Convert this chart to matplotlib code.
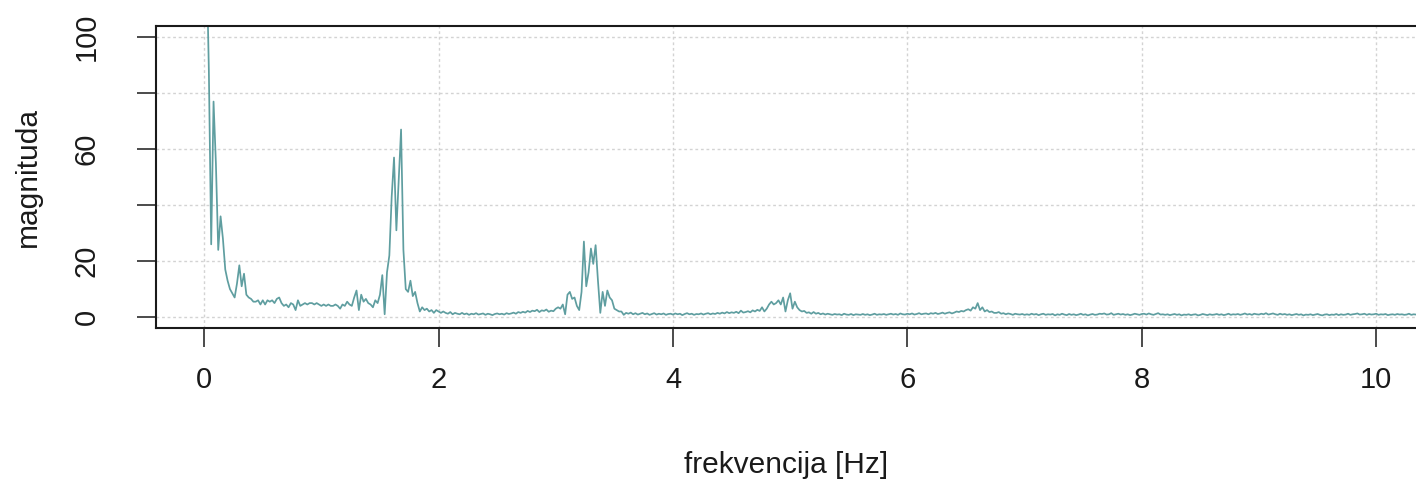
import numpy as np
import matplotlib
matplotlib.use("Agg")
import matplotlib.pyplot as plt

plt.rcParams['font.family'] = ['Liberation Sans', 'DejaVu Sans']

# magnitude spectrum, one value every 0.02 Hz starting at 0.02 Hz
freq_step = 0.02
magnitude = [
    130, 88, 26, 77, 55, 24, 36, 28, 17, 13,
    10, 8.5, 7, 12, 18.5, 11, 15.5, 8, 7, 6.5,
    5.5, 5.5, 6, 4.5, 6, 4.5, 6, 5.5, 6, 5,
    6.5, 7, 5, 4, 4.5, 3.5, 5, 4.5, 2.5, 6,
    4, 4.5, 5, 4.5, 5, 5, 4.5, 5, 4.5, 4,
    4.5, 4, 4.5, 4, 4, 4.5, 4, 3, 4.5, 4,
    5.5, 4.5, 4, 7, 9.5, 2.5, 8, 5.5, 6.5, 5,
    4.5, 3.5, 6, 5, 8, 15, 1, 16, 22, 43,
    57, 31, 49, 67, 24, 10, 9, 13, 7.5, 9,
    5, 2, 3.5, 2.5, 3, 2, 2.5, 1.5, 2.5, 2,
    # 2 - 4 Hz
    1.5, 2, 1.5, 1.2, 1.8, 1, 1.5, 1.2, 1, 1.5,
    1, 1.3, 0.8, 1.2, 1, 1.4, 0.9, 1.1, 1.3, 0.8,
    1.2, 1, 0.7, 1.1, 1.3, 1, 1.2, 0.9, 1.4, 1.1,
    1.3, 1.6, 1.2, 1.8, 1.5, 1.9, 1.6, 2.2, 1.8, 2.3,
    2.1, 2.6, 1.8, 2.4, 2.2, 2.7, 1.9, 2.3, 2.1, 3,
    3.5, 3, 4.5, 1, 8, 9, 6.5, 7, 4, 2.5,
    9, 27, 11, 16, 24.5, 19, 25.7, 13, 1.5, 9,
    4, 9.5, 7, 6, 3, 2.5, 2, 2, 0.8, 1.5,
    1.2, 1.6, 1, 1.4, 0.9, 1.2, 1.5, 1, 1.3, 0.8,
    1.1, 1.4, 0.9, 1.2, 1, 1.3, 0.8, 1.1, 1.2, 0.9,
    # 4 - 6 Hz
    1.3, 1, 1.2, 0.7, 1.1, 1.4, 1, 1.2, 0.8, 1.1,
    1, 1.3, 0.9, 1.2, 1.4, 1, 1.3, 1.1, 1.5, 1.2,
    1.6, 1.3, 1.8, 1.4, 1.7, 1.5, 1.9, 1.4, 2.3, 1.6,
    1.8, 2.1, 1.7, 2.4, 2, 2.6, 2.2, 3.5, 2, 3,
    4.5, 5.5, 4.5, 5, 6, 4.5, 7, 2, 6, 8.5,
    3, 5.5, 3.5, 2.5, 2, 2.2, 1.5, 1.7, 1.2, 1.8,
    1.2, 1.5, 1, 1.3, 0.9, 1.2, 1, 0.8, 1.1, 0.9,
    1, 0.7, 1.2, 0.9, 0.8, 1.1, 0.7, 1, 0.9, 0.8,
    1.1, 0.8, 1, 0.7, 0.9, 1.2, 0.8, 1, 0.9, 1.1,
    0.8, 1, 1.2, 0.9, 1.1, 0.8, 1.3, 1, 0.9, 1.2,
    # 6 - 8 Hz
    1, 1.3, 0.9, 1.1, 1.4, 1, 1.2, 1.3, 1, 1.4,
    1.2, 1.5, 1.1, 1.3, 1.6, 1.2, 1.5, 1.7, 1.3, 1.6,
    2, 1.8, 2.2, 2, 2.5, 2.8, 2.3, 3.5, 3, 5,
    2.5, 3.5, 2, 2.5, 1.8, 2, 1.5, 1.5, 1.8, 1.2,
    1.4, 1, 1.3, 1.1, 0.8, 1.2, 1, 0.9, 1.1, 0.8,
    1, 0.8, 1.2, 0.9, 1.1, 0.7, 1, 1.2, 0.8, 1,
    0.9, 1.1, 0.6, 1, 0.8, 1.2, 0.9, 0.7, 1.1, 0.8,
    1, 0.7, 0.9, 1.2, 0.8, 1, 0.6, 0.9, 1.1, 0.8,
    0.9, 1.2, 1.1, 1.3, 0.9, 1, 1.4, 0.8, 1, 1.2,
    0.9, 1.1, 0.8, 1, 0.7, 0.9, 1.2, 1, 0.8, 1.1,
    # 8 - 10.4 Hz
    1.2, 0.9, 1.3, 1, 0.8, 1.1, 1.4, 0.9, 1, 0.8,
    1, 0.7, 0.9, 1.1, 0.8, 1, 0.6, 0.9, 0.8, 1,
    0.7, 0.9, 1, 0.6, 0.8, 1.1, 0.9, 0.7, 1, 0.8,
    0.9, 1.1, 0.8, 1, 0.7, 0.9, 1.2, 0.8, 1, 0.9,
    1.1, 0.8, 1, 1.3, 0.9, 1.1, 0.8, 1.2, 1, 0.9,
    1.2, 1, 1.4, 0.9, 1.1, 1.3, 1, 0.8, 1.2, 0.9,
    1.1, 0.8, 1, 0.7, 0.9, 1.1, 0.8, 1, 0.6, 0.9,
    0.8, 1, 0.7, 0.9, 1.1, 0.8, 0.6, 0.9, 1, 0.7,
    0.9, 0.8, 1.1, 0.7, 1, 0.8, 0.9, 1.2, 0.8, 1,
    1.1, 1.3, 0.9, 1, 1.2, 0.8, 1.1, 0.9, 1, 1.2,
    0.8, 1, 0.9, 1.1, 0.7, 0.9, 1, 0.8, 1.1, 0.9,
    1, 0.8, 0.9, 1.2, 0.8, 1, 0.9, 1.1, 0.8, 1,
]
freq = freq_step * np.arange(1, len(magnitude) + 1)

x_ticks = [0, 2, 4, 6, 8, 10]
y_ticks = [0, 20, 40, 60, 80, 100]
y_tick_labels = ['0', '20', '', '60', '', '100']

W, H = 1416, 482
fig = plt.figure(figsize=(W / 100, H / 100), dpi=100)
ax = fig.add_axes([156 / W, (H - 328) / H, 1262 / W, 302 / H])

ax.plot(freq, magnitude, color='#5F9EA0', lw=1.25)

ax.set_xlim(-0.411, 10.357)
ax.set_ylim(-3.9, 104)
ax.set_xticks(x_ticks)
ax.set_yticks(y_ticks)
ax.set_yticklabels(y_tick_labels, rotation=90, va='center')

ax.grid(True, color='#D3D3D3', linestyle=(0, (2, 2)), lw=1.0)
ax.set_axisbelow(True)

for s in ax.spines.values():
    s.set_color('#1a1a1a')
    s.set_linewidth(1.5)

ax.tick_params(axis='both', direction='out', length=13.7, width=1.1,
               colors='#1a1a1a', labelsize=21)
ax.tick_params(axis='x', pad=14)
ax.tick_params(axis='y', pad=26)

fig.text(786 / W, 1 - 465 / H, 'frekvencija [Hz]', ha='center', va='center',
         fontsize=21.5, color='#1a1a1a')
fig.text(28 / W, 1 - 177 / H, 'magnituda', ha='center', va='center',
         rotation=90, fontsize=21.5, color='#1a1a1a')

fig.savefig('out.png', dpi=100)
